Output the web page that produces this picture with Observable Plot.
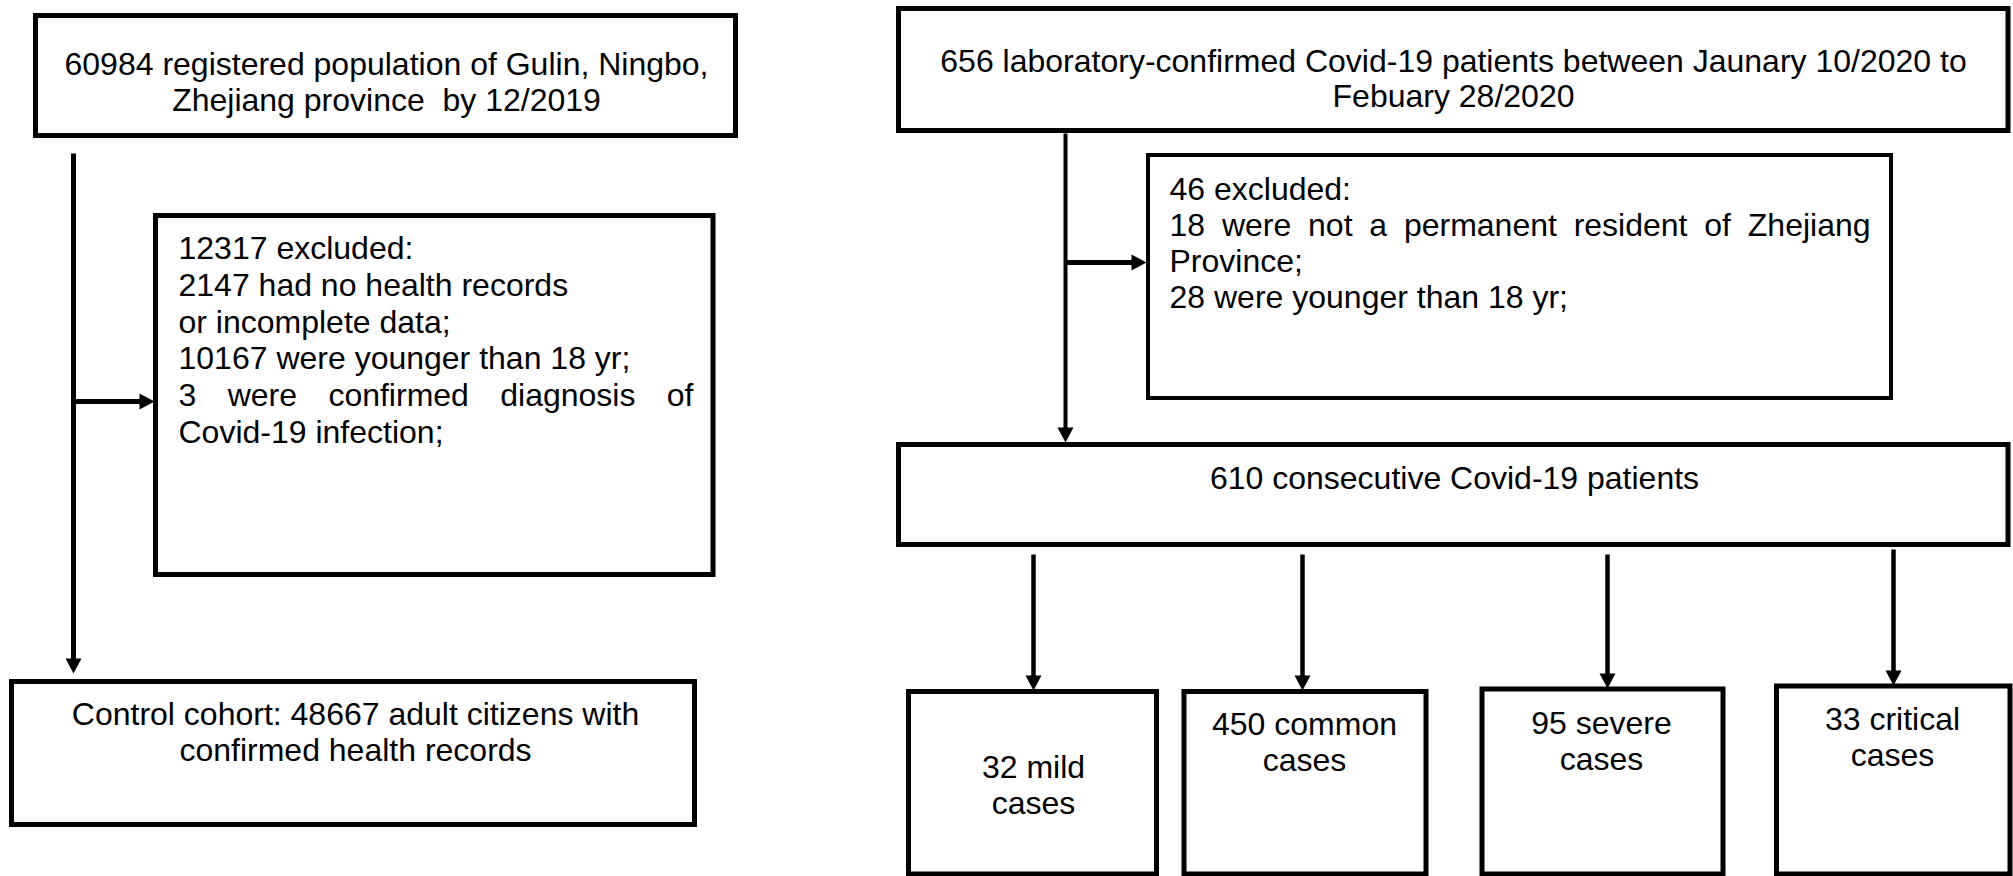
<!DOCTYPE html>
<html>
<head>
<meta charset="utf-8">
<script src="https://cdn.jsdelivr.net/npm/d3@7"></script>
<script src="https://cdn.jsdelivr.net/npm/@observablehq/plot@0.6"></script>
<style>
  html, body { margin: 0; padding: 0; background: #fff; overflow: hidden; }
</style>
</head>
<body>
<div id="chart"></div>
<script>
// ---------- data ----------
const stageNames = ["population", "cohortExcluded", "control", "patients", "patientExcluded", "consecutive"];
const stageCounts = [60984, 12317, 48667, 656, 46, 610];
const cohortExclusionCounts = [2147, 10167, 3];
const patientExclusionCounts = [18, 28];
const severityNames = ["mild", "common", "severe", "critical"];
const severityCounts = [32, 450, 95, 33];

// text of every box, line by line
const boxTexts = {
  population: [`${stageCounts[0]} registered population of Gulin, Ningbo,`, "Zhejiang province\u00a0 by 12/2019"],
  cohortExcluded: [
    `${stageCounts[1]} excluded:`,
    `${cohortExclusionCounts[0]} had no health records`,
    "or incomplete data;",
    `${cohortExclusionCounts[1]} were younger than 18 yr;`,
    `${cohortExclusionCounts[2]} were confirmed diagnosis of`,
    "Covid-19 infection;"
  ],
  control: [`Control cohort: ${stageCounts[2]} adult citizens with`, "confirmed health records"],
  patients: [`${stageCounts[3]} laboratory-confirmed Covid-19 patients between Jaunary 10/2020 to`, "Febuary 28/2020"],
  patientExcluded: [
    `${stageCounts[4]} excluded:`,
    `${patientExclusionCounts[0]} were not a permanent resident of Zhejiang`,
    "Province;",
    `${patientExclusionCounts[1]} were younger than 18 yr;`
  ],
  consecutive: [`${stageCounts[5]} consecutive Covid-19 patients`]
};
severityNames.forEach((n, i) => boxTexts[n] = [`${severityCounts[i]} ${n}`, "cases"]);

// ---------- layout (diagram geometry, pixels) ----------
const layout = {
  population:      {x1: 35.5,  x2: 735.5, y1: 15.5,  y2: 135.5, sw: 5, anchor: "middle", tx: 386,  ty: 64,    lh: 36},
  cohortExcluded:  {x1: 155.5, x2: 713,   y1: 215.5, y2: 574.5, sw: 5, anchor: "start",  tx: 178,  ty: 248.5, lh: 36.7, justify: [4, 693]},
  control:         {x1: 11.5,  x2: 694.5, y1: 681.5, y2: 824.5, sw: 5, anchor: "middle", tx: 355,  ty: 714,   lh: 36},
  patients:        {x1: 898.5, x2: 2008,  y1: 8.5,   y2: 130.5, sw: 5, anchor: "middle", tx: 1453, ty: 61,    lh: 35},
  patientExcluded: {x1: 1148,  x2: 1891,  y1: 155,   y2: 398,   sw: 4, anchor: "start",  tx: 1169, ty: 189.5, lh: 36, justify: [1, 1870]},
  consecutive:     {x1: 898.5, x2: 2008,  y1: 444.5, y2: 544.5, sw: 5, anchor: "middle", tx: 1454, ty: 478,   lh: 36},
  mild:            {x1: 908.5, x2: 1156.5, y1: 691.5, y2: 874,  sw: 5, anchor: "middle", tx: 1033, ty: 767,   lh: 36},
  common:          {x1: 1184,  x2: 1426,  y1: 691.5, y2: 874,   sw: 5, anchor: "middle", tx: 1304, ty: 724,   lh: 36},
  severe:          {x1: 1482,  x2: 1723,  y1: 689,   y2: 874,   sw: 5, anchor: "middle", tx: 1601, ty: 723,   lh: 36},
  critical:        {x1: 1776.5, x2: 2010, y1: 686,   y2: 874,   sw: 5, anchor: "middle", tx: 1892, ty: 719,   lh: 36}
};

const arrowsLayout = [
  {x1: 73,   y1: 153, x2: 73,   y2: 673, w: 5},
  {x1: 73,   y1: 401, x2: 154,  y2: 401, w: 5},
  {x1: 1065, y1: 133, x2: 1065, y2: 442, w: 4},
  {x1: 1065, y1: 262, x2: 1146, y2: 262, w: 5},
  {x1: 1033, y1: 554, x2: 1033, y2: 690, w: 4.5},
  {x1: 1302, y1: 554, x2: 1302, y2: 690, w: 4.5},
  {x1: 1607, y1: 554, x2: 1607, y2: 688, w: 4.5},
  {x1: 1893, y1: 549, x2: 1893, y2: 685, w: 4.5}
];
const headLength = 15, headHalf = 8;

// ---------- build tables ----------
const boxes = Object.keys(layout).map(k => ({id: k, ...layout[k]}));
const lines = [];
for (const b of boxes) {
  boxTexts[b.id].forEach((t, i) => lines.push({
    text: t, x: b.tx, y: b.ty + i * b.lh, anchor: b.anchor,
    justifyTo: b.justify && b.justify[0] === i ? b.justify[1] : null
  }));
}
const shafts = arrowsLayout.map(a => {
  const L = Math.hypot(a.x2 - a.x1, a.y2 - a.y1);
  const ux = (a.x2 - a.x1) / L, uy = (a.y2 - a.y1) / L;
  return {x1: a.x1, y1: a.y1, x2: a.x2 - ux * (headLength - 1), y2: a.y2 - uy * (headLength - 1), w: a.w};
});
const heads = [];
arrowsLayout.forEach((a, i) => {
  const L = Math.hypot(a.x2 - a.x1, a.y2 - a.y1);
  const ux = (a.x2 - a.x1) / L, uy = (a.y2 - a.y1) / L;
  const bx = a.x2 - ux * headLength, by = a.y2 - uy * headLength;
  heads.push({id: i, x: a.x2, y: a.y2});
  heads.push({id: i, x: bx - uy * headHalf, y: by + ux * headHalf});
  heads.push({id: i, x: bx + uy * headHalf, y: by - ux * headHalf});
  heads.push({id: i, x: a.x2, y: a.y2});
});

const W = 2013, H = 876;
const svg = Plot.plot({
  width: W, height: H, margin: 0,
  x: {domain: [0, W], range: [0, W], axis: null},
  y: {domain: [0, H], range: [0, H], axis: null},
  style: {background: "#fff", fontFamily: "'Liberation Sans', Arial, sans-serif", overflow: "visible"},
  marks: [
    Plot.rect(boxes, {x1: "x1", x2: "x2", y1: "y1", y2: "y2", fill: "#fff", stroke: "#000", strokeWidth: "sw"}),
    Plot.link(shafts, {x1: "x1", y1: "y1", x2: "x2", y2: "y2", stroke: "#000", strokeWidth: "w"}),
    Plot.line(heads, {x: "x", y: "y", z: "id", fill: "#000", stroke: "none", curve: "linear"}),
    Plot.text(lines.filter(d => d.anchor === "middle"), {x: "x", y: "y", text: "text", textAnchor: "middle", fontSize: 32, fill: "#000"}),
    Plot.text(lines.filter(d => d.anchor === "start"), {x: "x", y: "y", text: "text", textAnchor: "start", fontSize: 32, fill: "#000"})
  ]
});
document.getElementById("chart").append(svg);

// justify the lines that are stretched to the box's text edge
const justifyMap = new Map(lines.filter(d => d.justifyTo).map(d => [d.text, d]));
d3.select(svg).selectAll("text").each(function () {
  const d = justifyMap.get(this.textContent);
  if (!d) return;
  const natural = this.getComputedTextLength();
  const gaps = (d.text.match(/ /g) || []).length;
  const extra = (d.justifyTo - d.x - natural) / gaps;
  if (gaps && extra > 0) this.setAttribute("word-spacing", extra.toFixed(2));
});
</script>
</body>
</html>
